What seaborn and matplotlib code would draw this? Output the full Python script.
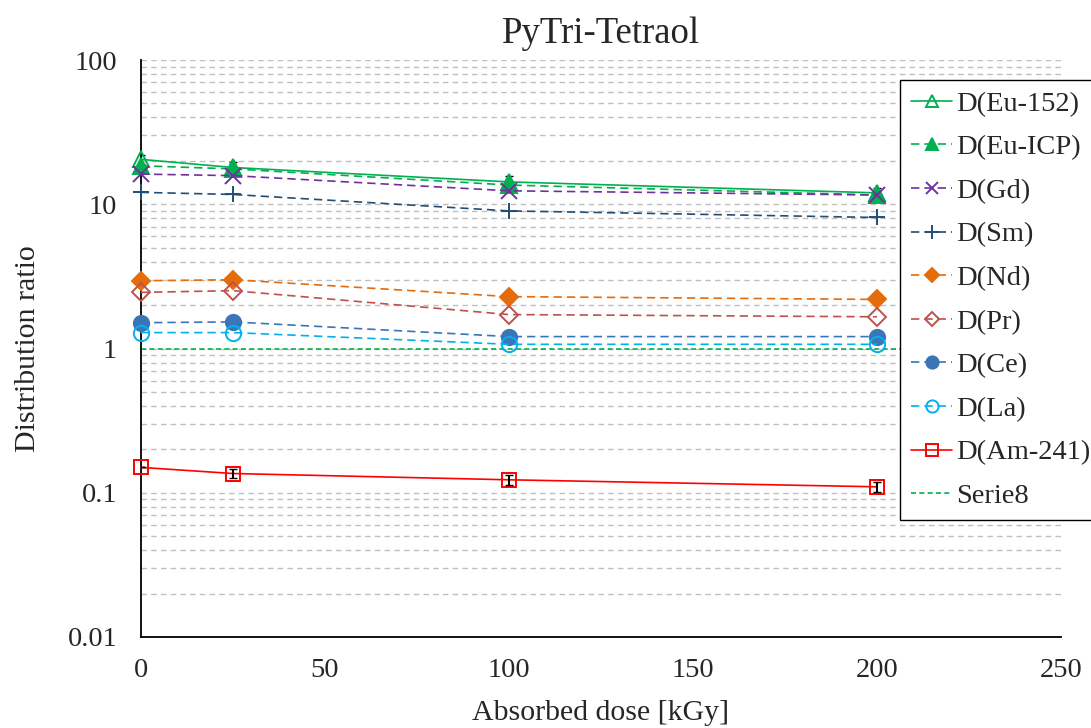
import seaborn as sns
import pandas as pd
import matplotlib.pyplot as plt
from matplotlib.ticker import LogLocator, NullFormatter, FuncFormatter

# absorbed dose points
dose = [0, 25, 100, 200]

# distribution ratios
d_eu152 = [20.5, 18.0, 14.3, 12.0]
d_euicp = [18.5, 17.6, 13.6, 11.6]
d_gd = [16.2, 15.8, 12.4, 11.6]
d_sm = [12.1, 11.7, 9.0, 8.1]
d_nd = [2.95, 3.0, 2.29, 2.19]
d_pr = [2.45, 2.52, 1.72, 1.66]
d_ce = [1.51, 1.53, 1.21, 1.21]
d_la = [1.29, 1.29, 1.07, 1.07]
d_am241 = [0.150, 0.136, 0.123, 0.110]
serie8_x = [0, 250]
serie8_y = [1.0, 1.0]

# error bars
err_eu152 = [1.5, 1.5, 1.3, 1.0]
err_am241 = [0.0, 0.010, 0.009, 0.008]

series = [
    ("D(Eu-152)", d_eu152, "#00B050", "-", "^", "none", 11),
    ("D(Eu-ICP)", d_euicp, "#00B050", (0, (5, 3)), "^", "#00B050", 11),
    ("D(Gd)", d_gd, "#7030A0", (0, (5, 3)), "x", "#7030A0", 11),
    ("D(Sm)", d_sm, "#1F4E79", (0, (5, 3)), "+", "#1F4E79", 12),
    ("D(Nd)", d_nd, "#E46C0A", (0, (5, 3)), "D", "#E46C0A", 9),
    ("D(Pr)", d_pr, "#C0504D", (0, (5, 3)), "D", "none", 9),
    ("D(Ce)", d_ce, "#3A75B8", (0, (5, 3)), "o", "#3A75B8", 11),
    ("D(La)", d_la, "#00B0F0", (0, (5, 3)), "o", "none", 11),
    ("D(Am-241)", d_am241, "#FF0000", "-", "s", "none", 10),
]

sns.set_style("white")
plt.rcParams['font.family'] = ['Liberation Serif', 'DejaVu Serif']

fig = plt.figure(figsize=(10.91, 7.28), dpi=100)
ax = fig.add_axes([0.129, 0.125, 0.8435, 0.7925])

for name, vals, col, ls, mk, fc, ms in series:
    df = pd.DataFrame({"dose": dose, "D": vals})
    sns.lineplot(data=df, x="dose", y="D", ax=ax, color=col, linestyle=ls,
                 linewidth=1.2, marker=mk, markersize=ms,
                 markerfacecolor=fc, markeredgecolor=col, markeredgewidth=1.4,
                 label=name, zorder=3, clip_on=False)

ax.errorbar(dose, d_eu152, yerr=err_eu152, fmt="none", ecolor="black",
            elinewidth=1.5, capsize=3, zorder=2)
ax.errorbar(dose, d_am241, yerr=err_am241, fmt="none", ecolor="black",
            elinewidth=1.5, capsize=3, zorder=4)

df8 = pd.DataFrame({"dose": serie8_x, "D": serie8_y})
sns.lineplot(data=df8, x="dose", y="D", ax=ax, color="#00B050",
             linestyle=(0, (3, 2)), linewidth=1.2, label="Serie8", zorder=2)

ax.set_yscale("log")
ax.set_ylim(0.01, 100)
ax.set_xlim(0, 250)
ax.set_xticks([0, 50, 100, 150, 200, 250])
ax.yaxis.set_major_formatter(FuncFormatter(lambda v, p: f"{v:g}"))
ax.yaxis.set_minor_locator(LogLocator(base=10, subs=range(2, 10)))
ax.yaxis.set_minor_formatter(NullFormatter())
ax.tick_params(axis="y", which="major", direction="in", length=6, width=1.2,
               labelsize=20.5, pad=17)
ax.tick_params(axis="y", which="minor", direction="in", length=5, width=1.2)
ax.tick_params(axis="x", length=0, labelsize=20.5, pad=15)

ax.yaxis.grid(True, which="both", color="#BFBFBF", linestyle=(0, (4, 3)),
              linewidth=1.0, zorder=0)
ax.xaxis.grid(False)
ax.set_axisbelow(True)

for s in ["top", "right"]:
    ax.spines[s].set_visible(False)
for s in ["left", "bottom"]:
    ax.spines[s].set_color("black")
    ax.spines[s].set_linewidth(1.3)

ax.set_title("PyTri-Tetraol", fontsize=26.5, pad=12)
ax.set_xlabel("Absorbed dose [kGy]", fontsize=21.5, labelpad=12)
ax.set_ylabel("Distribution ratio", fontsize=21.5, labelpad=19)

leg = ax.legend(loc="upper left", bbox_to_anchor=(0.825, 0.89),
                bbox_transform=fig.transFigure, fontsize=20.5, frameon=True,
                fancybox=False, edgecolor="black", framealpha=1,
                handlelength=1.45, handletextpad=0.15, labelspacing=0.62,
                borderpad=0.38, borderaxespad=0, markerscale=0.8)
leg.get_frame().set_linewidth(1.0)

plt.savefig("out.png", dpi=100)
